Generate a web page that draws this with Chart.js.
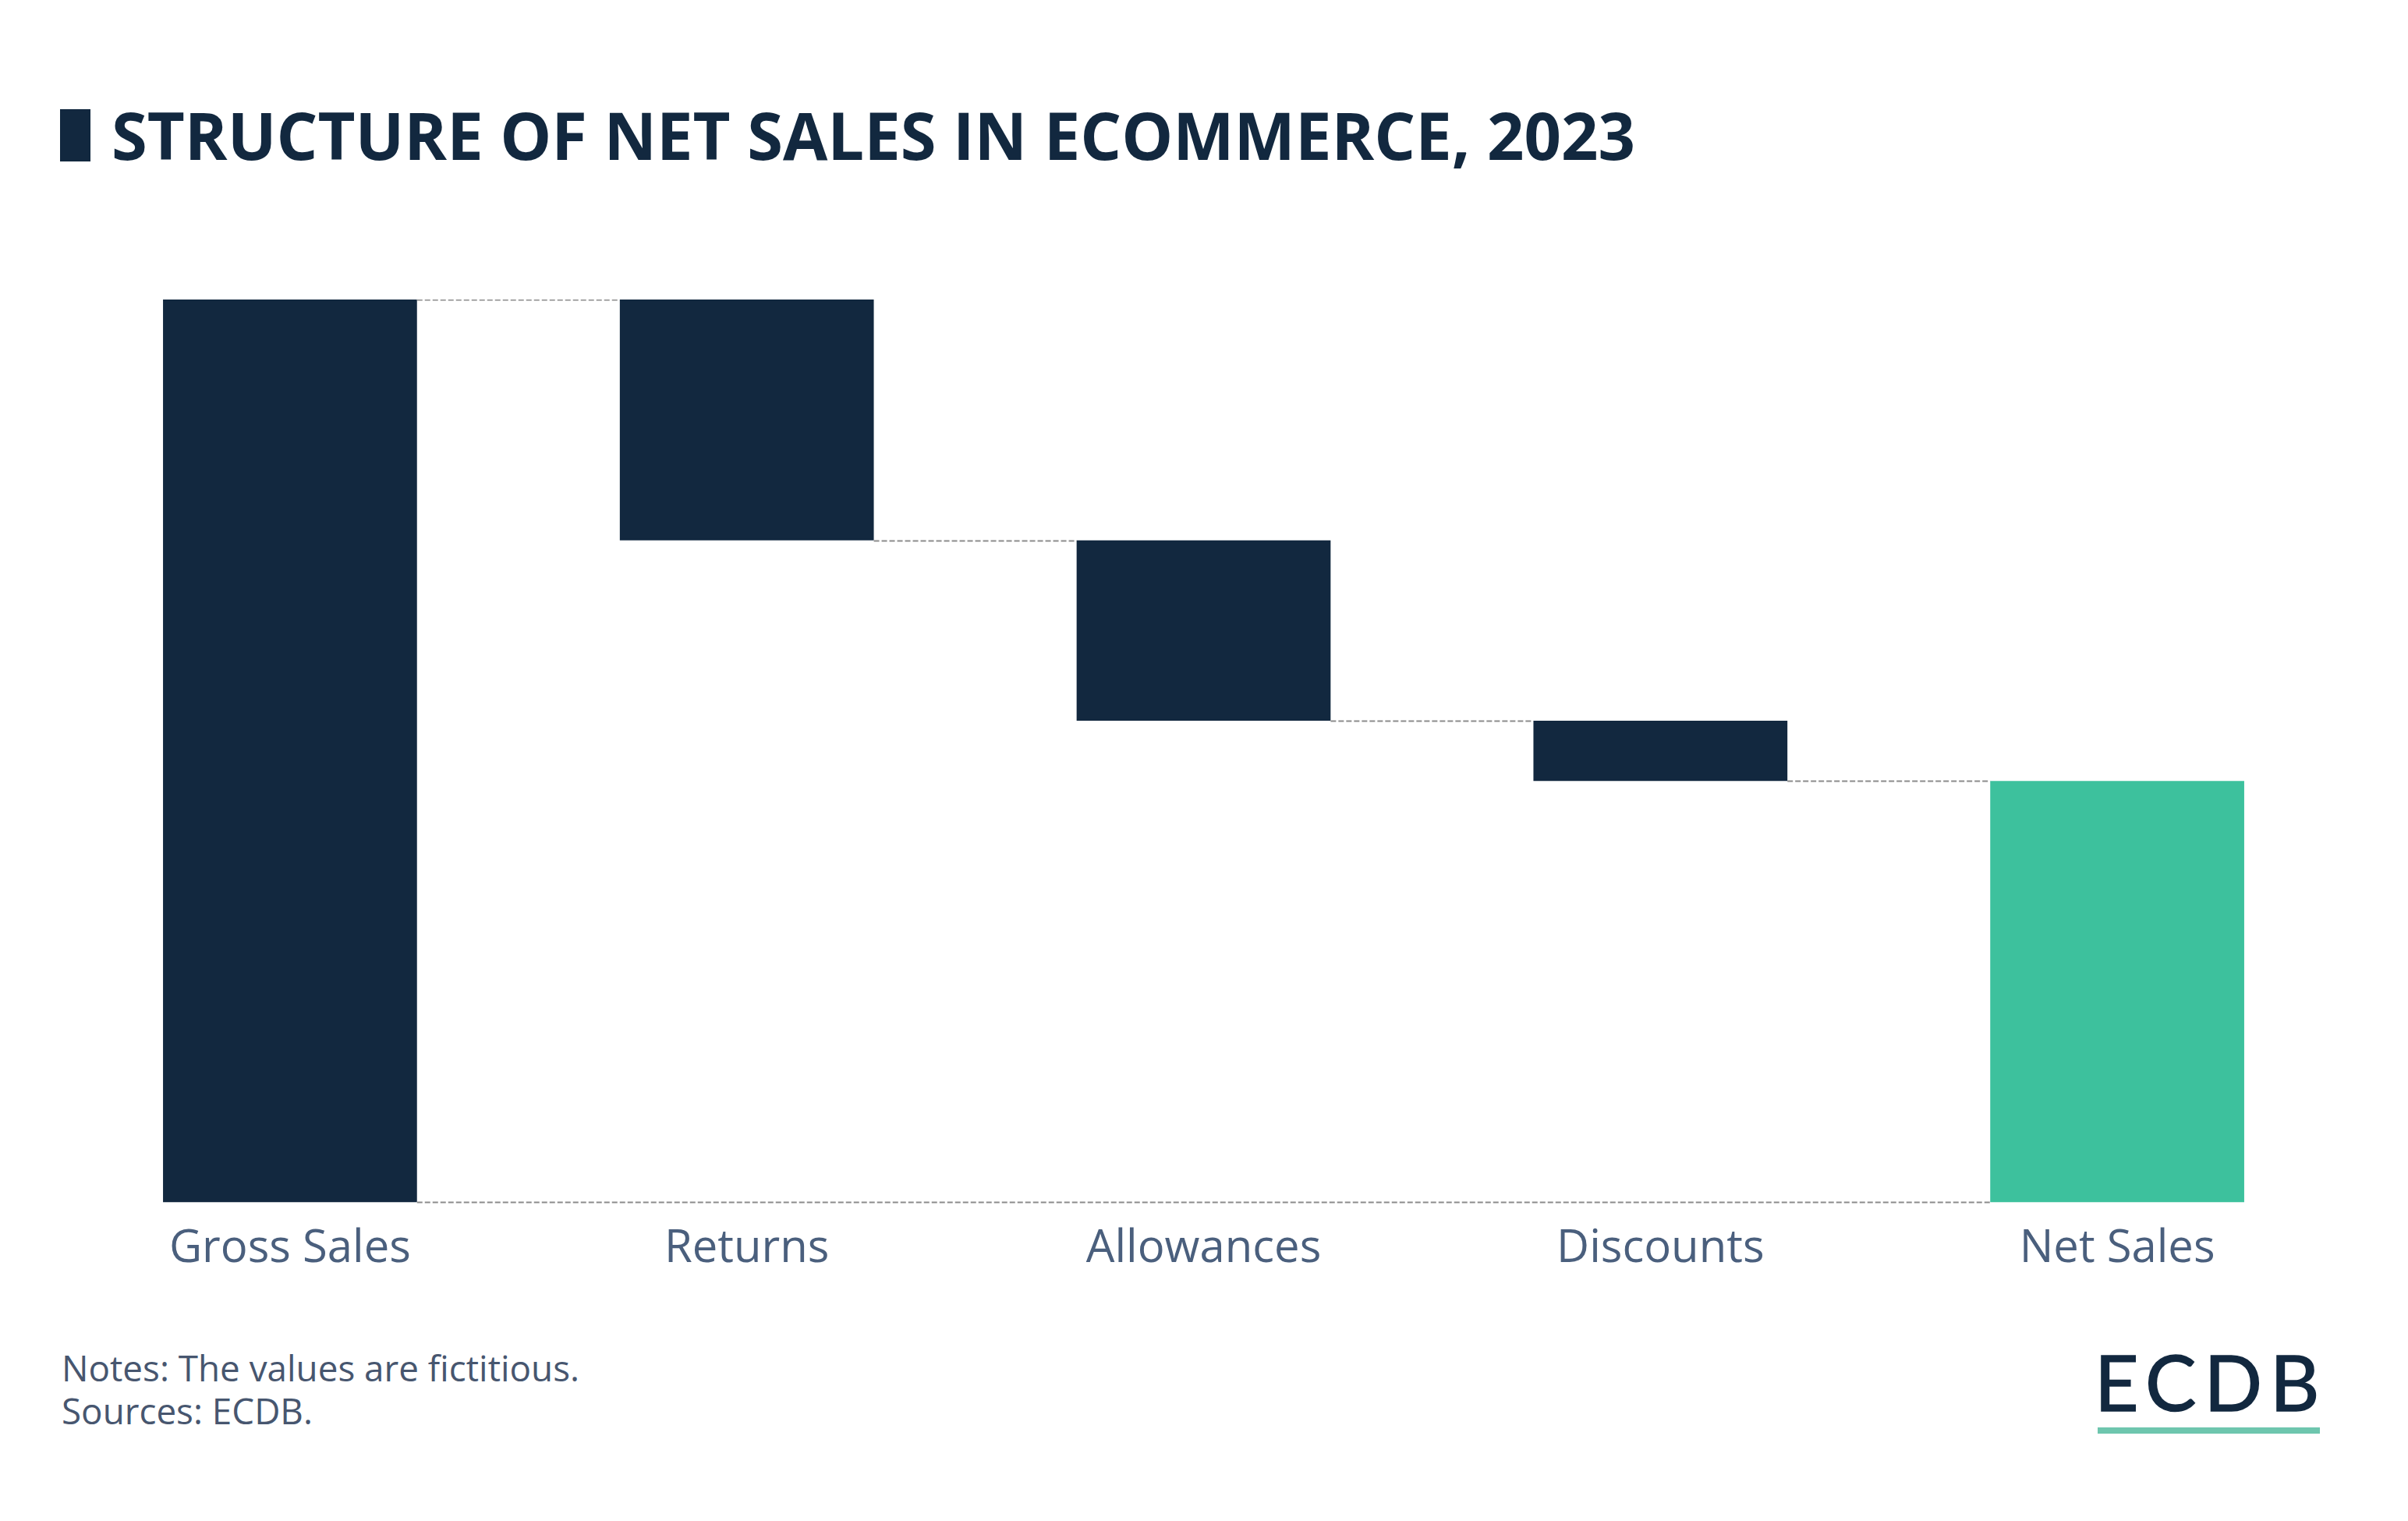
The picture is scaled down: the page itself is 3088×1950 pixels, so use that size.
<!DOCTYPE html>
<html>
<head>
<meta charset="utf-8">
<script src="https://cdn.jsdelivr.net/npm/chart.js@4.4.1/dist/chart.umd.min.js"></script>
<style>
  html, body { margin: 0; padding: 0; background: #ffffff; }
  body { width: 3088px; height: 1950px; position: relative; overflow: hidden; font-family: "Open Sans", sans-serif; }
  #titleMark { position: absolute; left: 77px; top: 140px; width: 39px; height: 67px; background: #12283f; }
  #title { position: absolute; left: 143px; top: 131px; font-size: 84px; font-weight: 700; color: #12283f; line-height: 1; white-space: nowrap; transform-origin: left top; }
  #chartBox { position: absolute; left: 79px; top: 384px; width: 2929px; height: 1269px; }
  #notes { position: absolute; left: 79px; top: 1726px; font-size: 46px; color: #47566f; line-height: 55px; white-space: nowrap; transform-origin: left top; }
  #logo { position: absolute; left: 2686px; top: 1722px; font-family: "Lato", sans-serif; font-size: 98px; font-weight: 400; color: #12283f; line-height: 1; letter-spacing: 10px; white-space: nowrap; -webkit-text-stroke: 1.5px #12283f; }
  #logoLine { position: absolute; left: 2690px; top: 1830px; width: 285px; height: 8px; background: #6ec6ae; }
</style>
</head>
<body>
<div id="titleMark"></div>
<div id="title">STRUCTURE OF NET SALES IN ECOMMERCE, 2023</div>
<div id="chartBox"><canvas id="grafico"></canvas></div>
<div id="notes">Notes: The values are fictitious.<br>Sources: ECDB.</div>
<div id="logo">ECDB</div>
<div id="logoLine"></div>

<script>
const categorias = ["Gross Sales", "Returns", "Allowances", "Discounts", "Net Sales"];
const montos = [150, 40, 30, 10, 70];
const tipos = ["total", "decrease", "decrease", "decrease", "total"];

const colorTotal = "#12283f";
const colorNeto = "#3dc19d";
const colorConector = "#8c8c8c";

// ajusta el ancho de un texto al de la imagen original
function ajustarAncho(id, anchoObjetivo) {
  const el = document.getElementById(id);
  const ancho = el.getBoundingClientRect().width;
  if (ancho > 0) el.style.transform = `scaleX(${anchoObjetivo / ancho})`;
}

// rangos flotantes de la cascada
let acumulado = 0;
const rangos = [];
const niveles = [];
montos.forEach((monto, i) => {
  if (tipos[i] === "total") {
    rangos.push([0, monto]);
    acumulado = monto;
  } else {
    rangos.push([acumulado - monto, acumulado]);
    acumulado -= monto;
  }
  niveles.push(acumulado);
});

const colores = categorias.map((c, i) => (i === categorias.length - 1 ? colorNeto : colorTotal));

const pluginConectores = {
  id: "pluginConectores",
  afterDatasetsDraw(chart) {
    const { ctx } = chart;
    const meta = chart.getDatasetMeta(0);
    const y = chart.scales.y;

    ctx.save();
    ctx.strokeStyle = colorConector;
    ctx.lineWidth = 2;
    ctx.setLineDash([7, 3]);

    for (let i = 0; i < meta.data.length - 1; i++) {
      const actual = meta.data[i];
      const siguiente = meta.data[i + 1];
      const py = Math.round(y.getPixelForValue(niveles[i])) + 0.5;
      ctx.beginPath();
      ctx.moveTo(actual.x + actual.width / 2, py);
      ctx.lineTo(siguiente.x - siguiente.width / 2, py);
      ctx.stroke();
    }

    // linea base entre el primer y el ultimo total
    const primero = meta.data[0];
    const ultimo = meta.data[meta.data.length - 1];
    const base = Math.round(y.getPixelForValue(0)) + 0.5;
    ctx.beginPath();
    ctx.moveTo(primero.x + primero.width / 2, base);
    ctx.lineTo(ultimo.x - ultimo.width / 2, base);
    ctx.stroke();

    ctx.restore();
  },
};

new Chart(document.getElementById("grafico"), {
  type: "bar",
  data: {
    labels: categorias,
    datasets: [
      {
        data: rangos,
        backgroundColor: colores,
        borderWidth: 0,
        borderSkipped: false,
        categoryPercentage: 1,
        barPercentage: 0.556,
      },
    ],
  },
  options: {
    responsive: true,
    maintainAspectRatio: false,
    animation: false,
    layout: { padding: 0 },
    plugins: {
      legend: { display: false },
      tooltip: { enabled: false },
    },
    scales: {
      x: {
        grid: { display: false },
        border: { display: false },
        ticks: {
          color: "#4a5f7d",
          padding: 17,
          font: { family: "Open Sans", size: 58 },
        },
      },
      y: {
        display: false,
        min: 0,
        max: 150,
      },
    },
  },
  plugins: [pluginConectores],
});

ajustarAncho("title", 1954);
ajustarAncho("notes", 664);
</script>
</body>
</html>
